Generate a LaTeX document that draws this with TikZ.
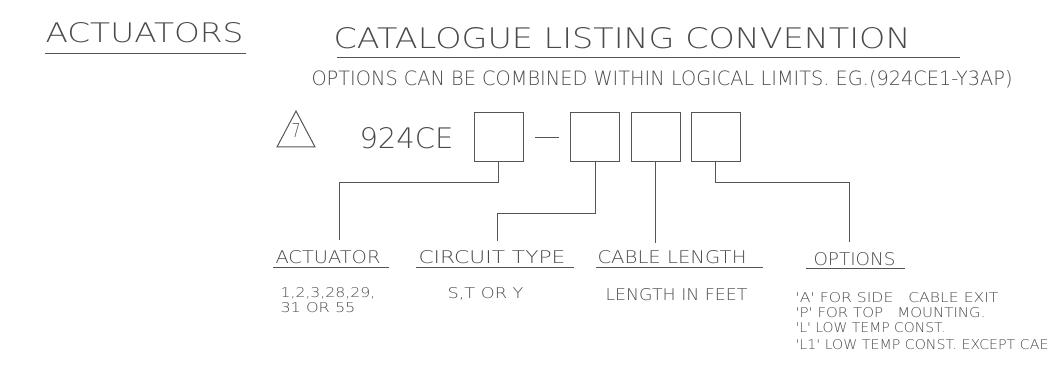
\documentclass[tikz,border=0pt]{standalone}
\usepackage{fontspec}
\usepackage{graphicx}
\newfontfamily\cadfont{DejaVu Sans ExtraLight}
\usetikzlibrary{calc}
\definecolor{CadInk}{HTML}{555555}
\definecolor{CadText}{HTML}{4a4a4a}
% text fitted to a width and a cap height (pt)
\newcommand{\cadtxt}[3]{\resizebox{#1pt}{#2pt}{\cadfont #3}}

\begin{document}
\begin{tikzpicture}[x=1pt, y=-1pt, line width=1pt, CadInk,
        slot/.style={draw, minimum size=49pt, inner sep=0pt},
        link/.style={draw, CadInk},
        label/.style={anchor=base west, inner sep=0pt, text=CadText}]
        \useasboundingbox (0,0) rectangle (1049,382);

        % headings
        \node[label] (sheet) at (45,43) {\cadtxt{198}{20}{ACTUATORS}};
        \draw (45,54) -- (246,54);
        \node[label] (title) at (333,49) {\cadtxt{577}{21}{CATALOGUE LISTING CONVENTION}};
        \draw (337,58) -- (960,58);
        \node[label] (note) at (311,86) {\cadtxt{701}{15}{OPTIONS CAN BE COMBINED WITHIN LOGICAL LIMITS. EG.(924CE1-Y3AP)}};

        % revision mark and part number
        \draw (277,147) -- (315,147) -- (296,111) -- cycle;
        \node[label] (rev) at (291,138) {\cadtxt{9}{14}{7}};
        \node[label] (part) at (359,149) {\cadtxt{94}{21}{924CE}};

        \foreach \i/\x in {1/498.5,2/595,3/655.5,4/715.5}
        {
            \node[slot] (b\i) at (\x,137.5) {};
        }
        \draw[link, shorten <=11pt, shorten >=11pt] (b1.east) -- (b2.west);

        % field names
        \node[label] (act) at (275,263) {\cadtxt{105}{13}{ACTUATOR}};
        \node[label] (circ) at (418,263) {\cadtxt{147}{13}{CIRCUIT TYPE}};
        \node[label] (cable) at (597,263) {\cadtxt{149}{13}{CABLE LENGTH}};
        \node[label] (opt) at (813,265) {\cadtxt{82}{13}{OPTIONS}};
        \draw (273,267) -- (389,267);
        \draw (416,267) -- (574,267);
        \draw (596,267) -- (763,267);
        \draw (806,268) -- (905,268);

        % leaders
        \coordinate (e1) at (339,240);
        \coordinate (e2) at (497,241);
        \coordinate (e3) at (655.5,243);
        \coordinate (e4) at (849,242);
        \draw[link] (b1.south) -- ++(0,20) -| (e1);
        \draw[link] (b2.south) -- ++(0,51) -| (e2);
        \draw[link] (b3.south) -- (e3);
        \draw[link] (b4.south) -- ++(0,20) -| (e4);

        % values
        \node[label] (act1) at (280,297) {\cadtxt{95}{10}{1,2,3,28,29,}};
        \node[label] (act2) at (280,312) {\cadtxt{75}{10}{31 OR 55}};
        \node[label] (circ1) at (447,298) {\cadtxt{76}{11}{S,T OR Y}};
        \node[label] (cable1) at (605,300) {\cadtxt{142}{12}{LENGTH IN FEET}};
        \node[label] (opt1) at (795,302) {\cadtxt{203}{10}{'A' FOR SIDE~~~CABLE EXIT}};
        \node[label] (opt2) at (795,317) {\cadtxt{190}{10}{'P' FOR TOP~~~MOUNTING.}};
        \node[label] (opt3) at (795,332) {\cadtxt{150}{10}{'L' LOW TEMP CONST.}};
        \node[label] (opt4) at (795,349) {\cadtxt{253}{10}{'L1' LOW TEMP CONST. EXCEPT CAE}};
\end{tikzpicture}
\end{document}
